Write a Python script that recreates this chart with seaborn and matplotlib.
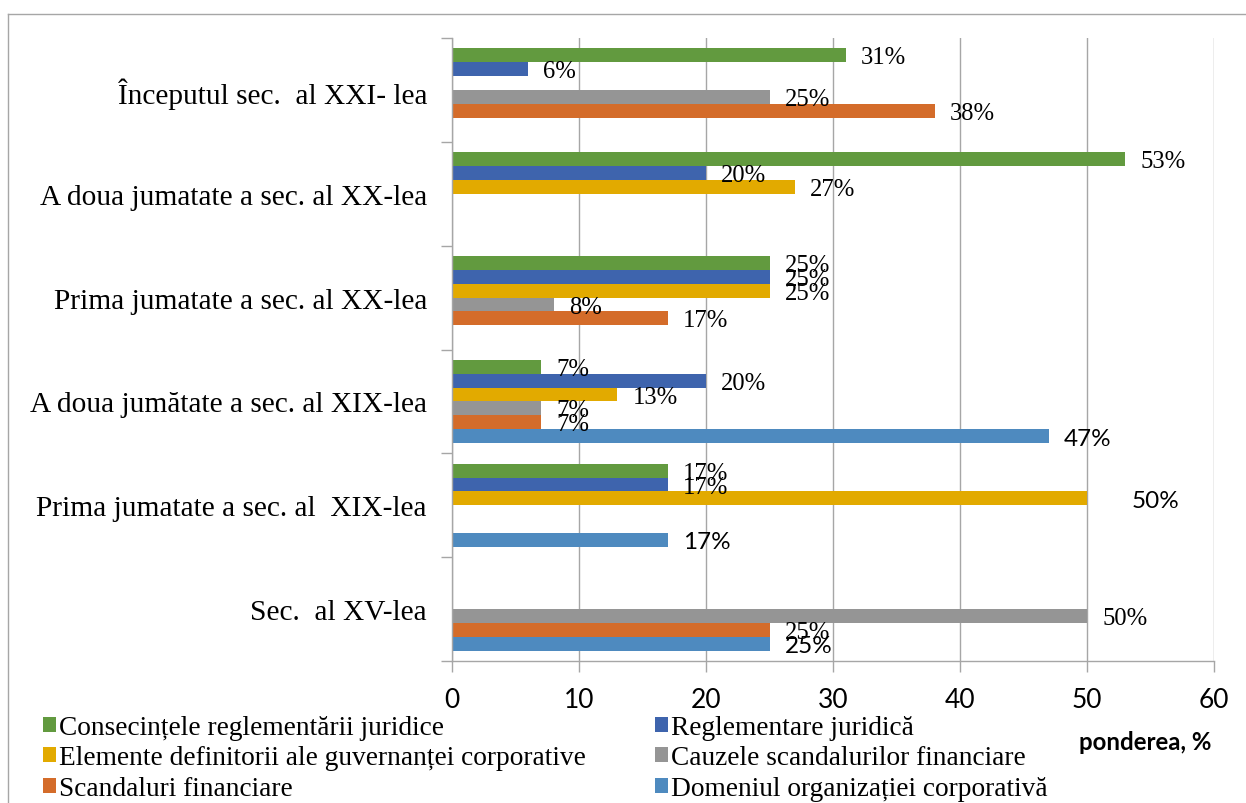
import numpy as np
import pandas as pd
import matplotlib
matplotlib.use("Agg")
import matplotlib.pyplot as plt
import seaborn as sns
from matplotlib.lines import Line2D
from matplotlib.ticker import FixedLocator

# Perioade (axa categoriilor, de sus în jos)
perioade = [
    "Începutul sec.  al XXI- lea",
    "A doua jumatate a sec. al XX-lea",
    "Prima jumatate a sec. al XX-lea",
    "A doua jumătate a sec. al XIX-lea",
    "Prima jumatate a sec. al  XIX-lea",
    "Sec.  al XV-lea",
]

# Serii
serii = [
    "Consecințele reglementării juridice",
    "Reglementare juridică",
    "Elemente definitorii ale guvernanței corporative",
    "Cauzele scandalurilor financiare",
    "Scandaluri financiare",
    "Domeniul organizației corporativă",
]

# Ponderea, % (câte o valoare pentru fiecare perioadă)
consecinte = [31, 53, 25, 7, 17, 0]
reglementare = [6, 20, 25, 20, 17, 0]
elemente = [0, 27, 25, 13, 50, 0]
cauze = [25, 0, 8, 7, 0, 50]
scandaluri = [38, 0, 17, 7, 0, 25]
domeniul = [0, 0, 0, 47, 17, 25]

x_ticks = [0, 10, 20, 30, 40, 50, 60]

culori = ["#629A3F", "#3E64AD", "#E2AA00", "#959595", "#D46C2A", "#4E8ABF"]

valori = [consecinte, reglementare, elemente, cauze, scandaluri, domeniul]
df = pd.DataFrame(
    [(p, s, v[i]) for s, v in zip(serii, valori) for i, p in enumerate(perioade)],
    columns=["perioada", "serie", "pondere"],
)

SERIF = "Liberation Serif"
SANS = "Lato"
GRI = "#A6A6A6"

W, H = 1246, 804
fig = plt.figure(figsize=(W / 100, H / 100), dpi=100)
ax = fig.add_axes([452 / W, 1 - 662 / H, (1214 - 452) / W, (662 - 39) / H])

sns.barplot(
    data=df, x="pondere", y="perioada", hue="serie",
    order=perioade, hue_order=serii, palette=culori,
    orient="h", width=0.8, saturation=1, linewidth=0,
    errorbar=None, ax=ax,
)
handles, labels = ax.get_legend_handles_labels()
ax.get_legend().remove()

# Etichete de date
for k, cont in enumerate(ax.containers):
    for bar in cont:
        v = bar.get_width()
        if v <= 0:
            continue
        eticheta_mutata = serii[k] == serii[2] and v >= 50
        sans = serii[k] == serii[5] or eticheta_mutata
        dx = 32 if eticheta_mutata else 11
        ax.annotate(
            f"{v:.0f}%",
            (v, bar.get_y() + bar.get_height() / 2),
            xytext=(dx, -1.5), textcoords="offset points",
            va="center", ha="left",
            fontsize=17.5 if sans else 17.7,
            family=SANS if sans else SERIF,
            color="black",
        )

# Axe
ax.set_xlim(0, 60)
ax.set_ylim(len(perioade) - 0.5, -0.5)
ax.set_xticks(x_ticks)
ax.set_xticklabels([str(t) for t in x_ticks], family=SANS, fontsize=19)
ax.tick_params(axis="x", length=8, width=1, color=GRI, pad=11)
ax.set_yticks(range(len(perioade)))
ax.set_yticklabels(perioade, family=SERIF, fontsize=21.2)
ax.tick_params(axis="y", which="major", length=0, pad=18)
ax.yaxis.set_minor_locator(FixedLocator(np.arange(-0.5, len(perioade), 1.0)))
ax.tick_params(axis="y", which="minor", length=8, width=1, color=GRI)
ax.set_xlabel("")
ax.set_ylabel("")
ax.xaxis.grid(True, color=GRI, linewidth=1)
ax.yaxis.grid(False)
ax.set_axisbelow(True)
for s in ("top", "right"):
    ax.spines[s].set_visible(False)
for s in ("left", "bottom"):
    ax.spines[s].set_color(GRI)
    ax.spines[s].set_linewidth(1)
ax.set_facecolor("white")

fig.text(1145 / W, 1 - 743 / H, "ponderea, %", family=SANS, fontweight="bold",
         fontsize=17.3, ha="center", va="center")

# Legendă (două coloane)
ordine = [0, 2, 4, 1, 3, 5]
leg = fig.legend(
    [handles[i] for i in ordine], [labels[i] for i in ordine],
    ncol=2, loc="upper left", bbox_to_anchor=(43 / W, 1 - 716 / H),
    frameon=False, prop={"family": SERIF, "size": 19.7},
    handlelength=0.48, handleheight=0.48, handletextpad=0.12,
    columnspacing=2.5, labelspacing=0.2, borderpad=0, borderaxespad=0,
)

# Chenar
fig.add_artist(Line2D([8 / W, 8 / W], [1 - 15 / H, -0.1], color=GRI, lw=1,
                      transform=fig.transFigure))
fig.add_artist(Line2D([8 / W, 1.1], [1 - 15 / H, 1 - 15 / H], color=GRI, lw=1,
                      transform=fig.transFigure))

fig.savefig("out.png", dpi=100, facecolor="white")
